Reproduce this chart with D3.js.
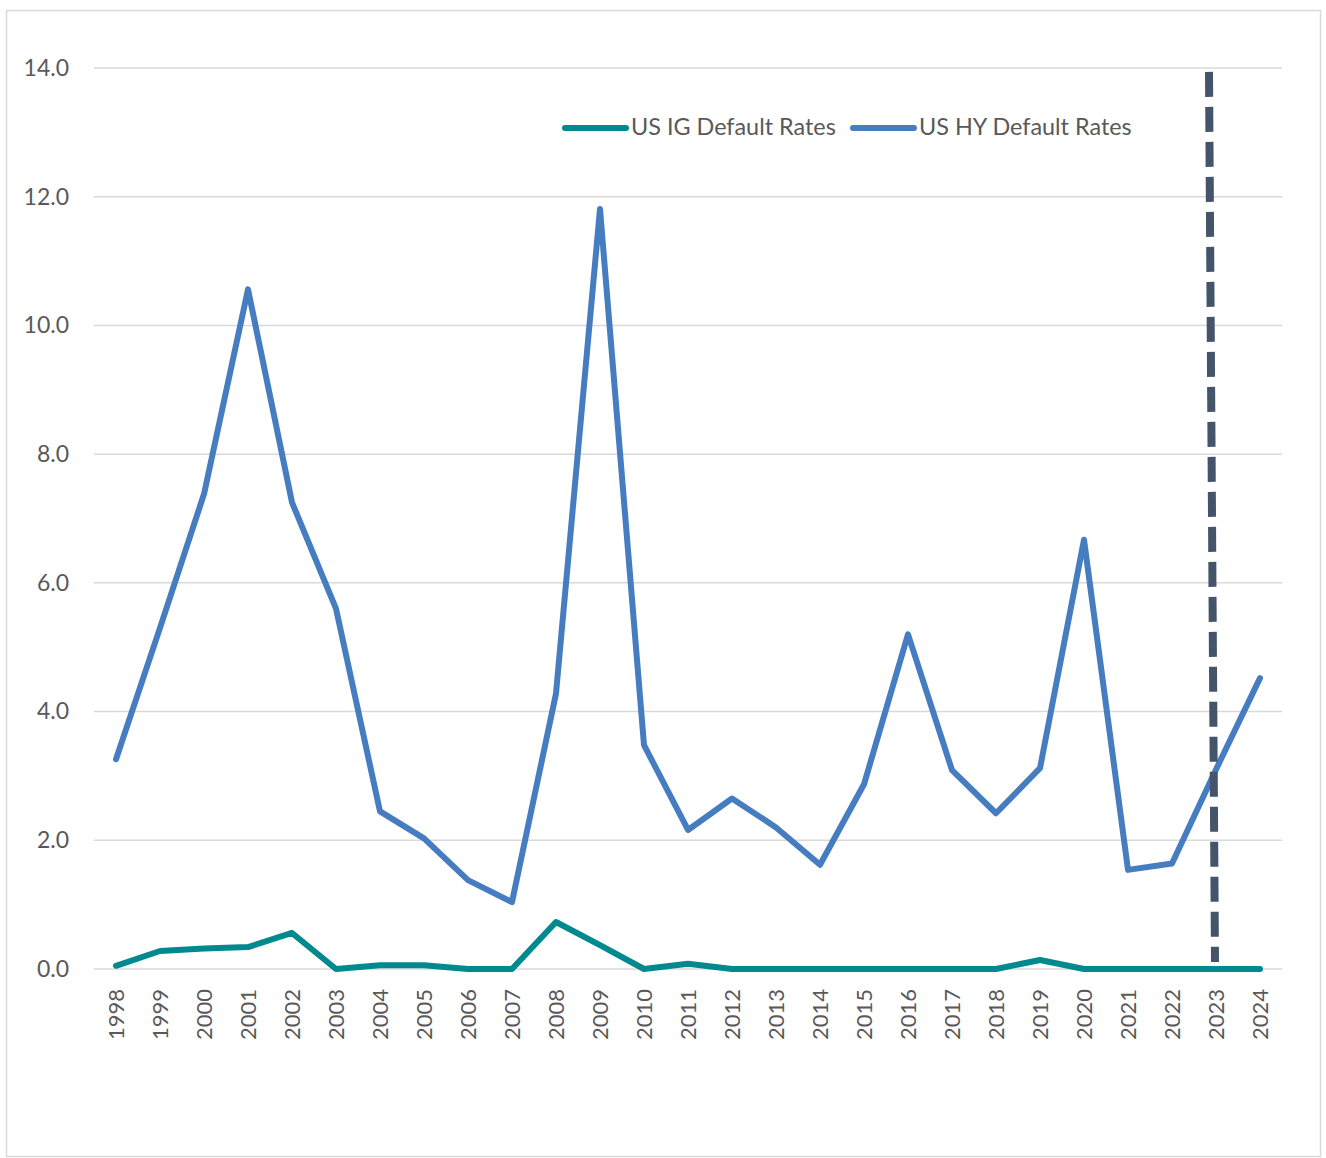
<!DOCTYPE html>
<html>
<head>
<meta charset="utf-8">
<script src="https://cdn.jsdelivr.net/npm/d3@7"></script>
<style>
  body { margin: 0; background: #fff; }
  text { font-family: Lato, "Noto Sans", sans-serif; fill: #595959; }
</style>
</head>
<body>
<svg id="chart"></svg>
<script>
// data
const years = ["1998","1999","2000","2001","2002","2003","2004","2005","2006","2007","2008","2009","2010",
  "2011","2012","2013","2014","2015","2016","2017","2018","2019","2020","2021","2022","2023","2024"];
const igRates = [0.05,0.28,0.32,0.34,0.56,0.0,0.06,0.06,0.0,0.0,0.73,0.37,0.0,
  0.08,0.0,0.0,0.0,0.0,0.0,0.0,0.0,0.14,0.0,0.0,0.0,0.0,0.0];
const hyRates = [3.26,5.30,7.38,10.56,7.25,5.60,2.45,2.03,1.38,1.04,4.28,11.81,3.48,
  2.16,2.65,2.20,1.62,2.87,5.20,3.09,2.42,3.12,6.67,1.54,1.64,3.10,4.52];
const yTicks = [0,2,4,6,8,10,12,14];
const seriesNames = ["US IG Default Rates", "US HY Default Rates"];
const marker = { year: "2023", from: 0.11, to: 13.94 };

const W = 1326, H = 1158;
const margin = { top: 68, right: 44, bottom: 189, left: 94 };

const svg = d3.select("#chart").attr("width", W).attr("height", H);

// outer frame
svg.append("rect")
  .attr("x", 6.5).attr("y", 10.5)
  .attr("width", 1314).attr("height", 1146)
  .attr("fill", "#fff")
  .attr("stroke", "#d9d9d9")
  .attr("stroke-width", 1.5);

const x = d3.scalePoint()
  .domain(years)
  .range([margin.left, W - margin.right])
  .padding(0.5);

const y = d3.scaleLinear()
  .domain([0, 14])
  .range([H - margin.bottom, margin.top]);

// gridlines
svg.append("g").selectAll("line")
  .data(yTicks)
  .join("line")
  .attr("x1", margin.left).attr("x2", W - margin.right)
  .attr("y1", d => y(d)).attr("y2", d => y(d))
  .attr("stroke", "#d9d9d9")
  .attr("stroke-width", 1.5);

// y axis labels
const yAxis = svg.append("g")
  .attr("transform", `translate(${margin.left - 25},0)`)
  .call(d3.axisLeft(y).tickValues(yTicks).tickFormat(d3.format(".1f")).tickSize(0).tickPadding(0));
yAxis.select(".domain").remove();
yAxis.selectAll("text")
  .style("font-size", "23px")
  .style("font-family", "Lato, 'Noto Sans', sans-serif")
  .attr("fill", "#595959");

// x axis labels (rotated)
const xAxis = svg.append("g")
  .attr("transform", `translate(0,${y(0)})`)
  .call(d3.axisBottom(x).tickSize(0).tickPadding(0));
xAxis.select(".domain").remove();
xAxis.selectAll("text")
  .attr("transform", "rotate(-90)")
  .attr("x", -20)
  .attr("y", 0)
  .attr("dy", "0.35em")
  .style("text-anchor", "end")
  .style("font-size", "22px")
  .style("font-family", "Lato, 'Noto Sans', sans-serif")
  .attr("fill", "#595959");

const line = d3.line()
  .x((d, i) => x(years[i]))
  .y(d => y(d));

svg.append("path")
  .datum(igRates)
  .attr("d", line)
  .attr("fill", "none")
  .attr("stroke", "#00898e")
  .attr("stroke-width", 6)
  .attr("stroke-linejoin", "round")
  .attr("stroke-linecap", "round");

svg.append("path")
  .datum(hyRates)
  .attr("d", line)
  .attr("fill", "none")
  .attr("stroke", "#467dc0")
  .attr("stroke-width", 6)
  .attr("stroke-linejoin", "round")
  .attr("stroke-linecap", "round");

// dashed marker near 2023
svg.append("line")
  .attr("x1", x(marker.year) - 7).attr("y1", y(marker.to))
  .attr("x2", x(marker.year) - 1).attr("y2", y(marker.from))
  .attr("stroke", "#44546a")
  .attr("stroke-width", 8)
  .attr("stroke-dasharray", "25,10");

// legend
const legendColors = ["#00898e", "#467dc0"];
const legendX = [565, 853];
const legend = svg.append("g");
seriesNames.forEach((name, i) => {
  legend.append("line")
    .attr("x1", legendX[i]).attr("x2", legendX[i] + 61)
    .attr("y1", 128).attr("y2", 128)
    .attr("stroke", legendColors[i])
    .attr("stroke-width", 6)
    .attr("stroke-linecap", "round");
  legend.append("text")
    .attr("x", legendX[i] + 66)
    .attr("y", 135)
    .style("font-size", "23.4px")
    .text(name);
});
</script>
</body>
</html>
